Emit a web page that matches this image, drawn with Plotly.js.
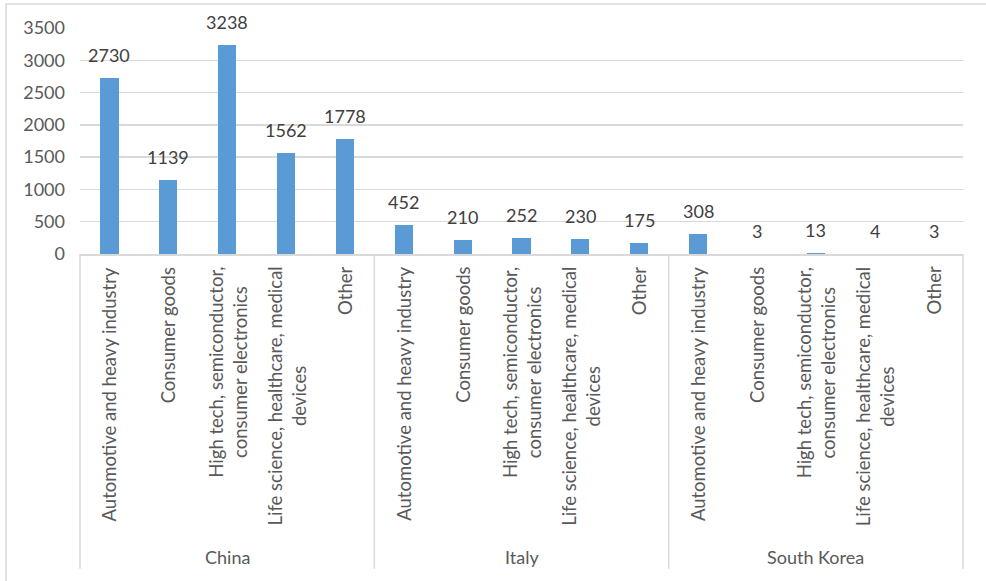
<!DOCTYPE html>
<html>
<head>
<meta charset="utf-8">
<script src="https://cdn.plot.ly/plotly-3.0.1.min.js"></script>
<style>
  html, body { margin: 0; padding: 0; background: #ffffff; }
  #chart { width: 986px; height: 581px; }
</style>
</head>
<body>
<div id="chart"></div>
<script>
const countries = ['China', 'Italy', 'South Korea'];
const sectors = [
  'Automotive and heavy industry',
  'Consumer goods',
  'High tech, semiconductor,<br>consumer electronics',
  'Life science, healthcare, medical<br>devices',
  'Other'
];
const chinaValues = [2730, 1139, 3238, 1562, 1778];
const italyValues = [452, 210, 252, 230, 175];
const southKoreaValues = [308, 3, 13, 4, 3];
const yTickValues = [0, 500, 1000, 1500, 2000, 2500, 3000, 3500];

const seriesByCountry = [chinaValues, italyValues, southKoreaValues];

const FONT = 'Lato, "Open Sans", sans-serif';
const TEXT = '#595959';
const GRID = '#d9d9d9';

const xs = [], ys = [];
seriesByCountry.forEach((vals, g) => {
  vals.forEach((v, i) => {
    xs.push(g * sectors.length + i);
    ys.push(v);
  });
});
const nCat = xs.length;

const annotations = [];
// data labels above bars
xs.forEach((x, k) => {
  annotations.push({
    x: x, xref: 'x', y: ys[k], yref: 'y',
    yanchor: 'bottom', xanchor: 'center', yshift: 10,
    text: String(ys[k]), showarrow: false,
    font: { family: FONT, size: 18, color: '#404040' }
  });
});
// category labels
seriesByCountry.forEach((vals, g) => {
  sectors.forEach((s, i) => {
    annotations.push({
      x: g * sectors.length + i, xref: 'x',
      y: 0, yref: 'paper', yanchor: 'top', xanchor: 'center',
      yshift: -11,
      text: s, textangle: -90, align: 'center', showarrow: false,
      font: { family: FONT, size: 18.5, color: TEXT }
    });
  });
});
// group labels
countries.forEach((c, g) => {
  annotations.push({
    x: g * sectors.length + (sectors.length - 1) / 2, xref: 'x',
    y: 0, yref: 'paper', yanchor: 'middle', xanchor: 'center',
    yshift: -303,
    text: c, showarrow: false,
    font: { family: FONT, size: 18, color: TEXT }
  });
});

const shapes = [];
// group separators (below axis)
for (let g = 0; g <= countries.length; g++) {
  const px = (g * sectors.length) / nCat;
  shapes.push({
    type: 'line', xref: 'paper', yref: 'paper',
    x0: px, x1: px, y0: 0, y1: -1.393,
    line: { color: GRID, width: 1.5 }
  });
}
// outer chart border
shapes.push({
  type: 'rect', xref: 'paper', yref: 'paper',
  x0: -0.0838, x1: 1.2, y0: -2, y1: 1.106,
  line: { color: GRID, width: 1.5 }, fillcolor: 'rgba(0,0,0,0)'
});

const trace = {
  type: 'bar',
  x: xs, y: ys,
  width: 0.31,
  marker: { color: '#5B9BD5', line: { width: 0 } },
  cliponaxis: false,
  hoverinfo: 'skip'
};

const layout = {
  width: 986, height: 581,
  margin: { l: 80, r: 23, t: 28, b: 326.5 },
  paper_bgcolor: '#ffffff', plot_bgcolor: '#ffffff',
  showlegend: false,
  bargap: 0,
  xaxis: {
    range: [-0.5, nCat - 0.5],
    showticklabels: false, showgrid: false, zeroline: false,
    showline: true, linecolor: GRID, linewidth: 1.5,
    ticks: ''
  },
  yaxis: {
    range: [0, 3500],
    tickvals: yTickValues,
    ticktext: yTickValues.map(String),
    showgrid: true, gridcolor: GRID, gridwidth: 1.5,
    zeroline: false, showline: false, ticks: '',
    ticklabelstandoff: 14,
    tickfont: { family: FONT, size: 18, color: TEXT }
  },
  annotations: annotations,
  shapes: shapes
};

Plotly.newPlot('chart', [trace], layout, { displayModeBar: false, staticPlot: true });
</script>
</body>
</html>
